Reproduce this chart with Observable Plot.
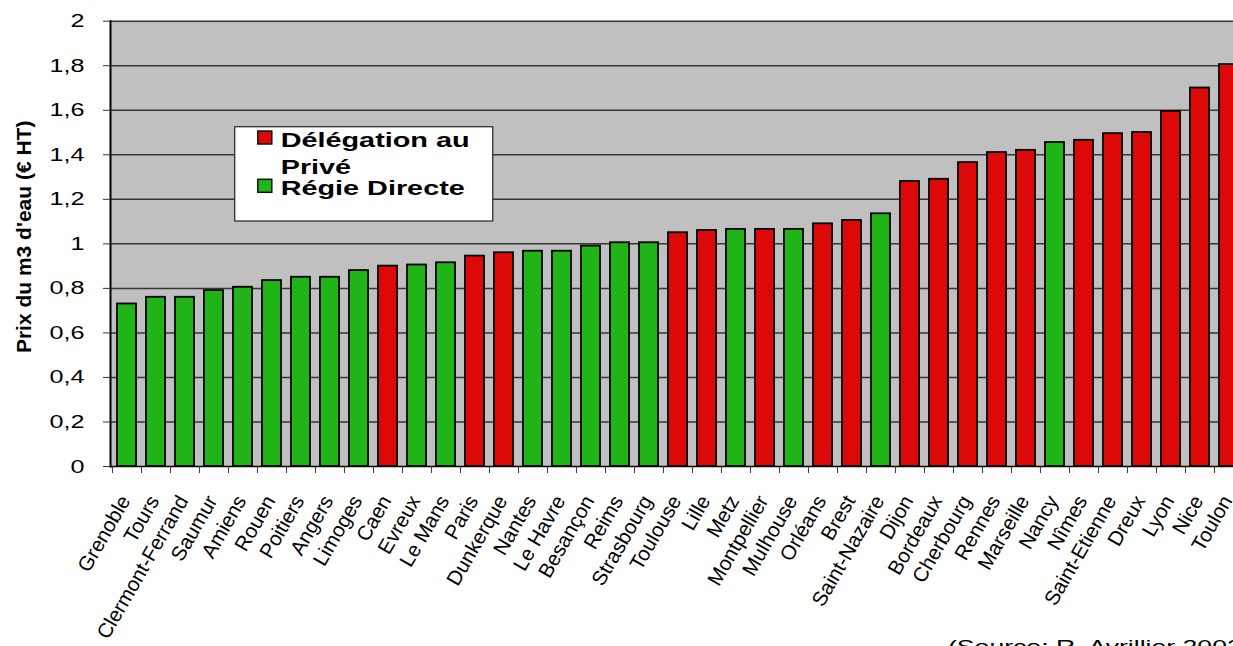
<!DOCTYPE html>
<html>
<head>
<meta charset="utf-8">
<script src="https://cdn.jsdelivr.net/npm/d3@7"></script>
<script src="https://cdn.jsdelivr.net/npm/@observablehq/plot@0.6"></script>
<style>
  html, body { margin: 0; padding: 0; background: #fff; overflow: hidden; width: 1233px; height: 646px; }
  #wrap { position: relative; width: 1233px; height: 646px; overflow: hidden; font-family: "Liberation Sans", Arial, sans-serif; }
  #wrap > svg { position: absolute; left: 0; top: 0; max-width: none !important; height: 646px !important; }
</style>
</head>
<body>
<div id="wrap"></div>
<script>
// Prix de l'eau par ville, classés du moins cher au plus cher
const cities = [
  "Grenoble", "Tours", "Clermont-Ferrand", "Saumur", "Amiens", "Rouen", "Poitiers", "Angers",
  "Limoges", "Caen", "Evreux", "Le Mans", "Paris", "Dunkerque", "Nantes", "Le Havre",
  "Besançon", "Reims", "Strasbourg", "Toulouse", "Lille", "Metz", "Montpellier", "Mulhouse",
  "Orléans", "Brest", "Saint-Nazaire", "Dijon", "Bordeaux", "Cherbourg", "Rennes", "Marseille",
  "Nancy", "Nîmes", "Saint-Etienne", "Dreux", "Lyon", "Nice", "Toulon"
];
const prices = [
  0.73, 0.76, 0.76, 0.79, 0.805, 0.835, 0.85, 0.85,
  0.88, 0.90, 0.905, 0.915, 0.945, 0.96, 0.967, 0.967,
  0.99, 1.005, 1.005, 1.05, 1.06, 1.065, 1.065, 1.065,
  1.09, 1.105, 1.135, 1.28, 1.29, 1.365, 1.41, 1.42,
  1.455, 1.465, 1.495, 1.50, 1.595, 1.70, 1.805
];
// P = délégation au privé, R = régie directe
const modes = [
  "R", "R", "R", "R", "R", "R", "R", "R",
  "R", "P", "R", "R", "P", "P", "R", "R",
  "R", "R", "R", "P", "P", "R", "P", "R",
  "P", "P", "R", "P", "P", "P", "P", "P",
  "R", "P", "P", "P", "P", "P", "P"
];
const modeNames = { P: "Délégation au Privé", R: "Régie Directe" };
const legendLines = [["Délégation au", "Privé"], ["Régie Directe"]];
const modeColors = ["#dd0808", "#20b418"];
const priceTicks = [0, 0.2, 0.4, 0.6, 0.8, 1, 1.2, 1.4, 1.6, 1.8, 2];
const tickLabels = ["0", "0,2", "0,4", "0,6", "0,8", "1", "1,2", "1,4", "1,6", "1,8", "2"];
const yTitle = "Prix du m3 d'eau (€ HT)";
const source = "(Source: R. Avrillier 2002)";

const rows = cities.map((city, i) => ({ city, price: prices[i], mode: modeNames[modes[i]] }));

const W = 1244, ML = 110, MR = 0, MT = 20.7, MB = 180, H = 646;
const step = (W - ML - MR) / cities.length;
const FONT = "Liberation Sans, Arial, sans-serif";

const chart = Plot.plot({
  width: W,
  height: H,
  marginLeft: ML,
  marginRight: MR,
  marginTop: MT,
  marginBottom: MB,
  style: { fontFamily: FONT, background: "transparent", color: "#000", overflow: "hidden", maxWidth: "none" },
  x: { domain: cities, paddingInner: 0.36, paddingOuter: 0.18, label: null },
  y: { domain: [0, 2], label: null },
  color: { domain: [modeNames.P, modeNames.R], range: modeColors },
  marks: [
    Plot.frame({ fill: "#c0c0c0", stroke: null }),
    Plot.ruleY(priceTicks.filter(d => d > 0), { stroke: "#363636", strokeWidth: 1.5 }),
    Plot.barY(rows, { x: "city", y: "price", fill: "mode", stroke: "#000", strokeWidth: 1.8 }),
    Plot.ruleY([0], { stroke: "#000", strokeWidth: 1.5 }),
    Plot.frame({ anchor: "left", stroke: "#000", strokeWidth: 2 }),
    Plot.axisY(priceTicks, {
      tickSize: 7, tickPadding: 19, fontSize: 18.8, stroke: "#363636", label: null,
      tickFormat: d => tickLabels[priceTicks.indexOf(d)]
    }),
    Plot.axisX({ tickSize: 7, tickFormat: () => "", dx: -step / 2, stroke: "#363636", label: null }),
    Plot.text(cities, {
      x: d => d, text: d => d, frameAnchor: "bottom", rotate: -60, textAnchor: "end",
      dx: 4, dy: 34, fontSize: 20.5, fill: "#000", ariaLabel: "city-labels"
    }),
    Plot.text([yTitle], {
      text: d => d, frameAnchor: "left", textAnchor: "middle", rotate: -90, dx: -86, dy: -7,
      fontSize: 21, fontWeight: "bold", fill: "#000"
    })
  ]
});

const wrap = document.getElementById("wrap");
wrap.appendChild(chart);

// Legend and source note drawn on top of the chart
const overlay = d3.create("svg")
  .attr("width", 1233).attr("height", 646)
  .style("font-family", FONT);

const lg = overlay.append("g");
lg.append("rect").attr("x", 234.7).attr("y", 126.7).attr("width", 258).attr("height", 94.3)
  .attr("fill", "#fff").attr("stroke", "#333").attr("stroke-width", 1.3);
const swatchY = [131, 179.3];
const baselines = [[146.7, 174.3], [195]];
legendLines.forEach((lines, k) => {
  lg.append("rect").attr("x", 257.8).attr("y", swatchY[k]).attr("width", 14).attr("height", 13)
    .attr("fill", modeColors[k]).attr("stroke", "#111").attr("stroke-width", 1.5);
  lines.forEach((line, j) => {
    lg.append("text").attr("class", "wide").attr("data-s", 1.44)
      .attr("x", 280.7).attr("y", baselines[k][j])
      .attr("font-size", 20).attr("font-weight", "bold").attr("fill", "#000")
      .text(line);
  });
});

overlay.append("text").attr("class", "wide").attr("data-s", 1.4)
  .attr("x", 948).attr("y", 653).attr("font-size", 19).attr("fill", "#000")
  .text(source);

wrap.appendChild(overlay.node());

// Wider lettering, stretched along each text's own direction
function widen(nodes, s) {
  nodes.forEach(el => {
    const len = el.getComputedTextLength();
    if (len > 0) {
      el.setAttribute("textLength", len * s);
      el.setAttribute("lengthAdjust", "spacingAndGlyphs");
    }
  });
}
widen(Array.from(chart.querySelectorAll('g[aria-label="y-axis tick label"] text')), 1.34);
widen(Array.from(chart.querySelectorAll('g[aria-label="city-labels"] text')), 1.2);
overlay.node().querySelectorAll("text.wide").forEach(el => widen([el], +el.getAttribute("data-s")));
</script>
</body>
</html>
